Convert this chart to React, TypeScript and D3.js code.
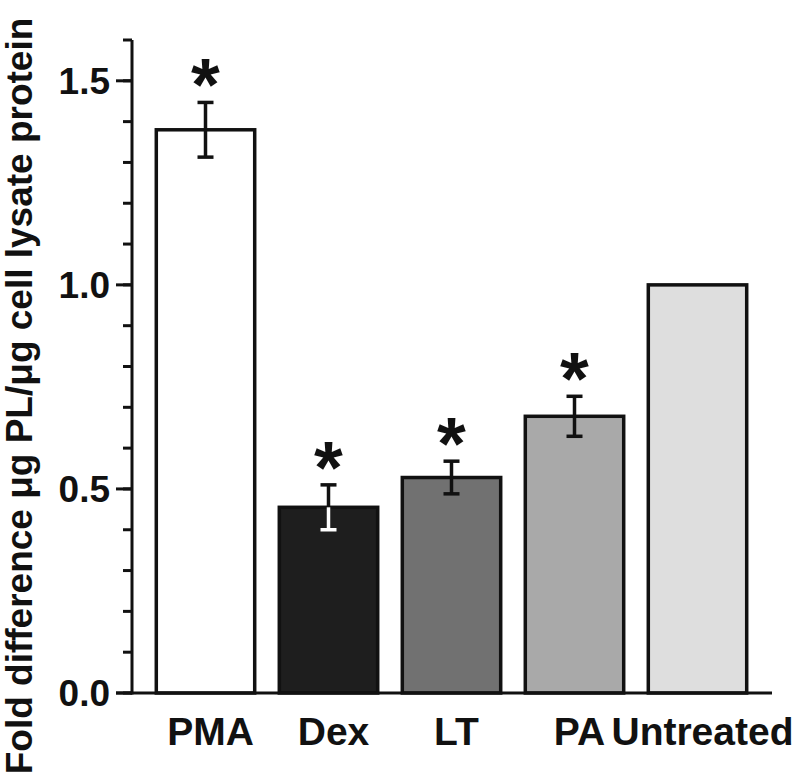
import React from "react";
import * as d3 from "d3";

const categories = ["PMA", "Dex", "LT", "PA", "Untreated"];
const values = [1.38, 0.455, 0.528, 0.678, 1.0];
const errors = [0.067, 0.055, 0.04, 0.049, 0];
const significant = [true, true, true, true, false];
const fills = ["#ffffff", "#1e1e1e", "#717171", "#a9a9a9", "#dedede"];
const majorTicks = [0, 0.5, 1.0, 1.5];
const yLabel = "Fold difference μg PL/μg cell lysate protein";

const W = 800;
const H = 783;
const axisX = 132;
const axisY = 693;
const FONT = "'Liberation Sans', Arial, Helvetica, sans-serif";

export default function App() {
  const y = d3.scaleLinear().domain([0, 1.6]).range([axisY, 40]);
  const x = d3
    .scaleBand<string>()
    .domain(categories)
    .range([144, 759])
    .paddingInner(0.2)
    .paddingOuter(0.1);
  const minorTicks = d3.range(0, 17).map((i) => i / 10);
  const bw = x.bandwidth();

  return (
    <svg
      width={W}
      height={H}
      style={{ position: "absolute", left: 0, top: 0, background: "#fff" }}
      fontFamily={FONT}
      fontWeight="bold"
    >
      <rect x={0} y={0} width={W} height={H} fill="#fff" />
      {categories.map((c, i) => {
        const x0 = x(c)!;
        const cx = x0 + bw / 2;
        const top = y(values[i]);
        const dark = d3.hsl(fills[i]).l < 0.3;
        const eTop = y(values[i] + errors[i]);
        const eBot = y(values[i] - errors[i]);
        return (
          <g key={c}>
            <rect
              x={x0}
              y={top}
              width={bw}
              height={axisY - top}
              fill={fills[i]}
              stroke="#111"
              strokeWidth={3.5}
            />
            {errors[i] > 0 && (
              <g strokeWidth={3.5}>
                <line x1={cx} x2={cx} y1={eTop} y2={top} stroke="#111" />
                <line x1={cx} x2={cx} y1={top} y2={eBot} stroke={dark ? "#fff" : "#111"} />
                <line x1={cx - 8} x2={cx + 8} y1={eTop} y2={eTop} stroke="#111" />
                <line x1={cx - 8} x2={cx + 8} y1={eBot} y2={eBot} stroke={dark ? "#fff" : "#111"} />
              </g>
            )}
            {significant[i] && (
              <text x={cx} y={eTop + 8} textAnchor="middle" fontSize={74} fill="#111">
                *
              </text>
            )}
          </g>
        );
      })}
      <line x1={axisX} x2={axisX} y1={y(1.6)} y2={axisY + 1.5} stroke="#111" strokeWidth={3} />
      <line x1={116} x2={772} y1={axisY} y2={axisY} stroke="#111" strokeWidth={3} />
      {minorTicks.map((t) => (
        <line key={"m" + t} x1={123} x2={axisX} y1={y(t)} y2={y(t)} stroke="#111" strokeWidth={3} />
      ))}
      {majorTicks.map((t) => (
        <g key={"M" + t}>
          <line x1={116} x2={axisX} y1={y(t)} y2={y(t)} stroke="#111" strokeWidth={3} />
          <text x={110} y={y(t) + 13} textAnchor="end" fontSize={37} fill="#111">
            {d3.format(".1f")(t)}
          </text>
        </g>
      ))}
      {categories.map((c) => (
        <text
          key={"l" + c}
          x={x(c)! + bw / 2 + 5}
          y={745}
          textAnchor="middle"
          fontSize={39}
          fill="#111"
        >
          {c}
        </text>
      ))}
      <text
        transform={`translate(32,396) rotate(-90)`}
        textAnchor="middle"
        fontSize={37}
        fill="#111"
      >
        {yLabel}
      </text>
    </svg>
  );
}
